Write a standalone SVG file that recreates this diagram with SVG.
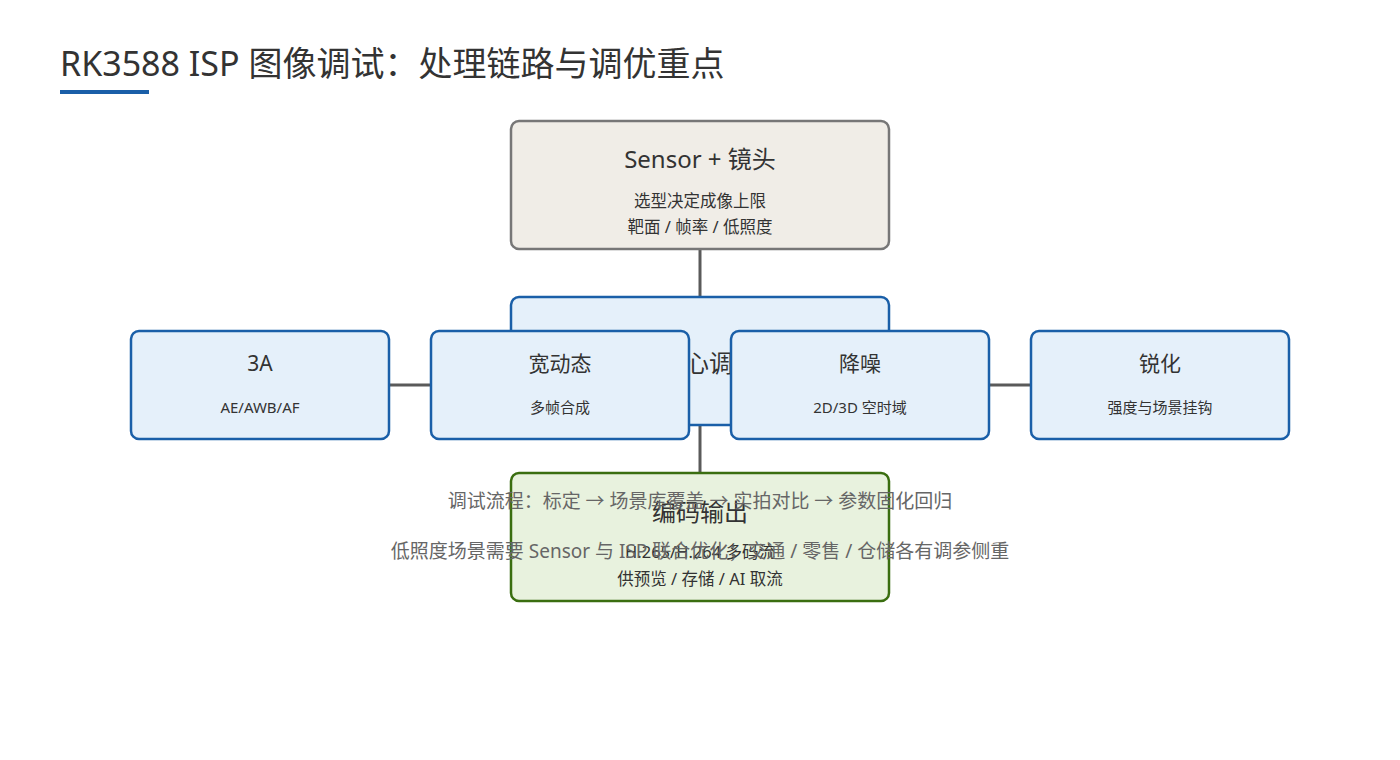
<svg xmlns="http://www.w3.org/2000/svg" width="1400" height="760" viewBox="0 0 1400 760">
<style>
text{font-family:"Noto Sans","Noto Sans CJK SC",sans-serif;fill:#333;text-anchor:middle}
.blue{fill:#e5f0fa;stroke:#1a5fa8;stroke-width:2.5}
.t{font-size:21px}.s{font-size:15px}.n{font-size:16.5px}
.note{font-size:19px;fill:#666}
.ln{stroke:#5a5a5a;stroke-width:3;fill:none}
</style>
<rect width="1400" height="760" fill="#fff"/>
<text x="60" y="76" style="font-size:34px;text-anchor:start">RK3588 ISP 图像调试：处理链路与调优重点</text>
<rect x="60" y="90" width="89" height="4" fill="#1a5fa8"/>
<g id="connectors">
<line class="ln" x1="700" y1="249" x2="700" y2="297"/>
<line class="ln" x1="390" y1="385" x2="1030" y2="385"/>
<line class="ln" x1="700" y1="425" x2="700" y2="473"/>
</g>
<g id="sensor"><rect x="511" y="121" width="378" height="128" rx="8" fill="#f0ede7" stroke="#777" stroke-width="2.5"/>
<text x="700" y="168" style="font-size:24px">Sensor + 镜头</text>
<text class="n" x="700" y="207">选型决定成像上限</text>
<text class="n" x="700" y="233">靶面 / 帧率 / 低照度</text></g>
<g id="isp"><rect class="blue" x="511" y="297" width="378" height="128" rx="8"/>
<text x="688" y="372" style="font-size:24px">ISP 核心调优</text></g>
<g id="a3"><rect class="blue" x="131" y="331" width="258" height="108" rx="8"/>
<text class="t" x="260" y="371">3A</text><text class="s" x="260" y="413">AE/AWB/AF</text></g>
<g id="wdr"><rect class="blue" x="431" y="331" width="258" height="108" rx="8"/>
<text class="t" x="560" y="371">宽动态</text><text class="s" x="560" y="413">多帧合成</text></g>
<g id="nr"><rect class="blue" x="731" y="331" width="258" height="108" rx="8"/>
<text class="t" x="860" y="371">降噪</text><text class="s" x="860" y="413">2D/3D 空时域</text></g>
<g id="sharp"><rect class="blue" x="1031" y="331" width="258" height="108" rx="8"/>
<text class="t" x="1160" y="371">锐化</text><text class="s" x="1160" y="413">强度与场景挂钩</text></g>
<g id="enc"><rect x="511" y="473" width="378" height="128" rx="8" fill="#e8f2de" stroke="#3a6e10" stroke-width="2.5"/>
<text x="700" y="521" style="font-size:24px">编码输出</text>
<text class="n" x="700" y="558">H.265/H.264 多码流</text>
<text class="n" x="700" y="585">供预览 / 存储 / AI 取流</text></g>
<text class="note" x="700" y="508">调试流程：标定 → 场景库覆盖 → 实拍对比 → 参数固化回归</text>
<text class="note" x="700" y="558">低照度场景需要 Sensor 与 ISP 联合优化；交通 / 零售 / 仓储各有调参侧重</text>
</svg>
